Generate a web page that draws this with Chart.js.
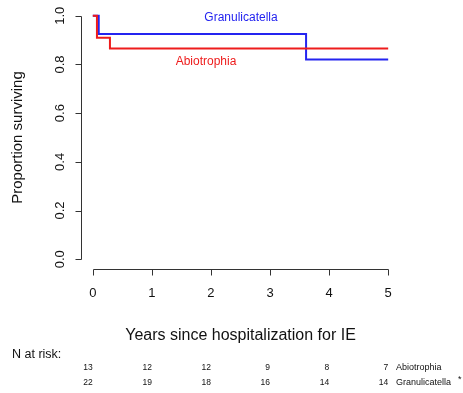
<!DOCTYPE html>
<html>
<head>
<meta charset="utf-8">
<script src="https://cdn.jsdelivr.net/npm/chart.js@4"></script>
<style>
  html, body { margin: 0; padding: 0; background: #fff; }
  #wrap { width: 463px; height: 393px; }
</style>
</head>
<body>
<div id="wrap"><canvas id="km" width="463" height="393"></canvas></div>
<script>
// Kaplan-Meier curves (time in years, proportion surviving)
const abioTimes = [0, 0.07, 0.29, 5];
const abioSurv = [1, 0.91, 0.865, 0.865];
const granTimes = [0, 0.1, 3.61, 5];
const granSurv = [1, 0.925, 0.82, 0.82];

// axis ticks
const xTicks = [0, 1, 2, 3, 4, 5];
const yTicks = [0.0, 0.2, 0.4, 0.6, 0.8, 1.0];

// numbers at risk
const riskYears = [0, 1, 2, 3, 4, 5];
const abioRisk = [13, 12, 12, 9, 8, 7];
const granRisk = [22, 19, 18, 16, 14, 14];

const BLUE = "#2424f0";
const RED = "#ee1c1c";
const FONT = "'Liberation Sans', Arial, sans-serif";

function pts(xs, ys) {
  return xs.map((x, i) => ({ x: x, y: ys[i] }));
}

// draws R-style axes, labels and the risk table
const rStyle = {
  id: "rStyle",
  afterDraw(chart) {
    const ctx = chart.ctx;
    const xs = chart.scales.x;
    const ys = chart.scales.y;
    const area = chart.chartArea;
    ctx.save();
    ctx.strokeStyle = "#333";
    ctx.fillStyle = "#111";
    ctx.lineWidth = 1;

    // y axis
    const ax = Math.round(area.left) + 0.5;
    ctx.beginPath();
    ctx.moveTo(ax, Math.round(ys.getPixelForValue(0)) + 0.5);
    ctx.lineTo(ax, Math.round(ys.getPixelForValue(1)) + 0.5);
    ctx.stroke();
    ctx.beginPath();
    yTicks.forEach((v) => {
      const p = Math.round(ys.getPixelForValue(v)) + 0.5;
      ctx.moveTo(ax, p);
      ctx.lineTo(ax - 6, p);
    });
    ctx.stroke();
    ctx.font = "13px " + FONT;
    ctx.textAlign = "center";
    ctx.textBaseline = "middle";
    yTicks.forEach((v) => {
      ctx.save();
      ctx.translate(60, ys.getPixelForValue(v));
      ctx.rotate(-Math.PI / 2);
      ctx.fillText(v.toFixed(1), 0, 0);
      ctx.restore();
    });

    // x axis
    const ay = Math.round(area.bottom) + 0.5;
    ctx.beginPath();
    ctx.moveTo(Math.round(xs.getPixelForValue(0)) + 0.5, ay);
    ctx.lineTo(Math.round(xs.getPixelForValue(5)) + 0.5, ay);
    ctx.stroke();
    ctx.beginPath();
    xTicks.forEach((v) => {
      const p = Math.round(xs.getPixelForValue(v)) + 0.5;
      ctx.moveTo(p, ay);
      ctx.lineTo(p, ay + 6);
    });
    ctx.stroke();
    xTicks.forEach((v) => {
      ctx.fillText(String(v), xs.getPixelForValue(v), 293);
    });

    // axis titles
    ctx.font = "15px " + FONT;
    ctx.save();
    ctx.translate(18, (area.top + area.bottom) / 2);
    ctx.rotate(-Math.PI / 2);
    ctx.fillText("Proportion surviving", 0, 0);
    ctx.restore();
    ctx.font = "16px " + FONT;
    ctx.fillText("Years since hospitalization for IE", (area.left + area.right) / 2, 336);

    // curve labels
    ctx.font = "12px " + FONT;
    ctx.fillStyle = BLUE;
    ctx.fillText("Granulicatella", 241, 18);
    ctx.fillStyle = RED;
    ctx.fillText("Abiotrophia", 206, 62);

    // N at risk table
    ctx.fillStyle = "#111";
    ctx.textAlign = "left";
    ctx.font = "12.5px " + FONT;
    ctx.fillText("N at risk:", 12, 355);
    ctx.font = "8.5px " + FONT;
    ctx.textAlign = "right";
    riskYears.forEach((t, i) => {
      const px = xs.getPixelForValue(t);
      ctx.fillText(String(abioRisk[i]), px, 368);
      ctx.fillText(String(granRisk[i]), px, 383);
    });
    ctx.textAlign = "left";
    ctx.font = "9px " + FONT;
    ctx.fillText("Abiotrophia", 396, 368);
    ctx.fillText("Granulicatella", 396, 383);
    ctx.fillText("*", 458, 380);
    ctx.restore();
  }
};

new Chart(document.getElementById("km"), {
  type: "line",
  data: {
    datasets: [
      {
        label: "Abiotrophia",
        data: pts(abioTimes, abioSurv),
        borderColor: RED,
        borderWidth: 2,
        stepped: "before",
        pointRadius: 0,
        fill: false,
      },
      {
        label: "Granulicatella",
        data: pts(granTimes, granSurv),
        borderColor: BLUE,
        borderWidth: 2,
        stepped: "before",
        pointRadius: 0,
        fill: false,
      },
    ],
  },
  options: {
    responsive: false,
    animation: false,
    layout: { padding: { left: 81, right: 63, top: 6, bottom: 124 } },
    scales: {
      x: { type: "linear", min: -0.2, max: 5.2, display: false },
      y: { min: -0.04, max: 1.04, display: false },
    },
    plugins: {
      legend: { display: false },
      tooltip: { enabled: false },
    },
  },
  plugins: [rStyle],
});
</script>
</body>
</html>
